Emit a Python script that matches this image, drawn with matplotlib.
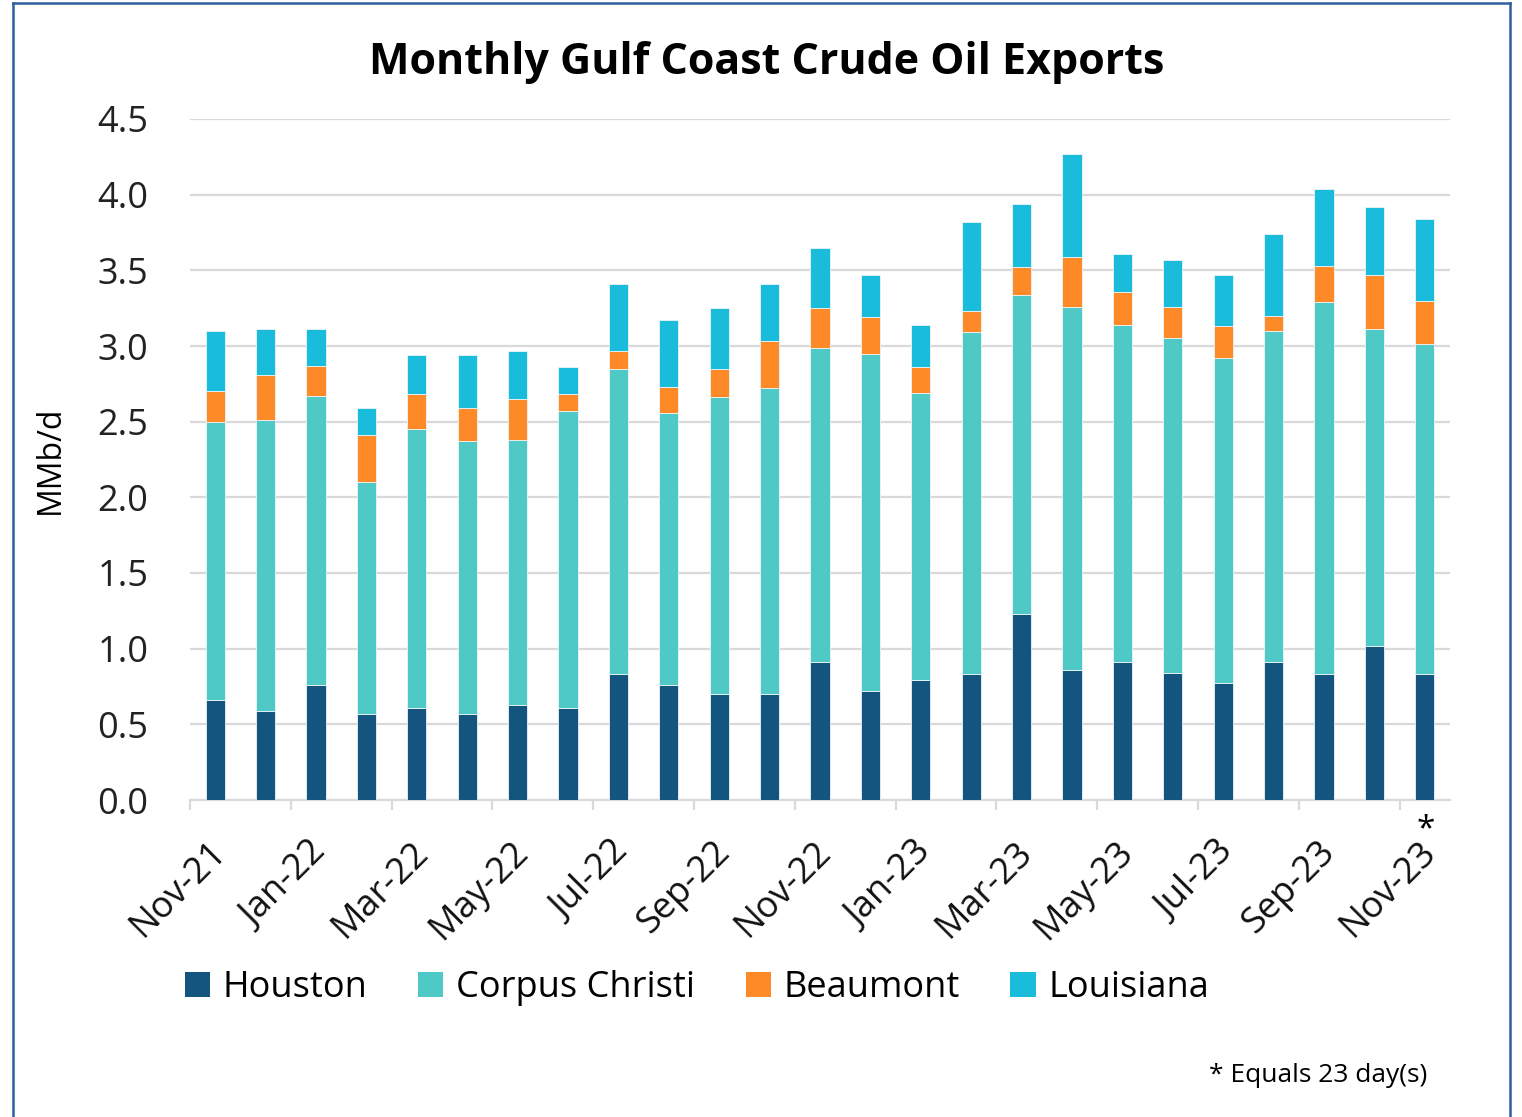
import matplotlib.pyplot as plt
import matplotlib.transforms as mtransforms
from matplotlib.patches import Patch
from matplotlib.lines import Line2D
import numpy as np

# monthly exports, MMb/d
months = ['Nov-21', 'Dec-21', 'Jan-22', 'Feb-22', 'Mar-22', 'Apr-22', 'May-22',
          'Jun-22', 'Jul-22', 'Aug-22', 'Sep-22', 'Oct-22', 'Nov-22', 'Dec-22',
          'Jan-23', 'Feb-23', 'Mar-23', 'Apr-23', 'May-23', 'Jun-23', 'Jul-23',
          'Aug-23', 'Sep-23', 'Oct-23', 'Nov-23']
houston = [0.66, 0.59, 0.76, 0.57, 0.61, 0.57, 0.63, 0.61, 0.83, 0.76, 0.70, 0.70,
           0.91, 0.72, 0.79, 0.83, 1.23, 0.86, 0.91, 0.84, 0.77, 0.91, 0.83, 1.02, 0.83]
corpus_christi = [1.84, 1.92, 1.91, 1.53, 1.84, 1.80, 1.75, 1.96, 2.02, 1.80, 1.96, 2.02,
                  2.08, 2.23, 1.90, 2.26, 2.11, 2.40, 2.23, 2.21, 2.15, 2.19, 2.46, 2.09, 2.18]
beaumont = [0.20, 0.30, 0.20, 0.31, 0.23, 0.22, 0.27, 0.11, 0.12, 0.17, 0.19, 0.31,
            0.26, 0.24, 0.17, 0.14, 0.18, 0.33, 0.22, 0.21, 0.21, 0.10, 0.24, 0.36, 0.29]
louisiana = [0.40, 0.30, 0.24, 0.18, 0.26, 0.35, 0.32, 0.18, 0.44, 0.44, 0.40, 0.38,
             0.40, 0.28, 0.28, 0.59, 0.42, 0.68, 0.25, 0.31, 0.34, 0.54, 0.51, 0.45, 0.54]

series = [('Houston', houston, '#14557f'),
          ('Corpus Christi', corpus_christi, '#4fc9c5'),
          ('Beaumont', beaumont, '#fd8a27'),
          ('Louisiana', louisiana, '#19bcdb')]

plt.rcParams['font.family'] = ['Open Sans', 'DejaVu Sans']

fig = plt.figure(figsize=(15.22, 11.17), dpi=100)
ax = fig.add_axes([190/1522, 1 - 800/1117, 1260/1522, 681/1117])

x = np.arange(len(months))
bottom = np.zeros(len(months))
for name, vals, col in series:
    ax.bar(x, vals, 0.38, bottom=bottom, color=col, edgecolor='#eef4f8',
           linewidth=0.6, label=name, zorder=3)
    bottom += np.array(vals)

ax.set_xlim(-0.5, len(months) - 0.5)
ax.set_ylim(0, 4.5)
ax.set_yticks(np.arange(0, 4.51, 0.5))
ax.set_yticklabels([f'{v:.1f}' for v in np.arange(0, 4.51, 0.5)], fontsize=26)
ax.tick_params(axis='y', length=0, pad=30, colors='#222222')
ax.grid(axis='y', color='#d9d9d9', linewidth=1.6, zorder=0)

ax.set_xticks(x[::2])
ax.set_xticklabels(months[::2], rotation=45, ha='right', va='center',
                   rotation_mode='anchor', fontsize=26, color='#111111')
ax.tick_params(axis='x', length=0, pad=34)
# nudge the slanted labels a little to the right, as in the original
shift = mtransforms.ScaledTranslation(6/100, 0, fig.dpi_scale_trans)
for lab in ax.get_xticklabels():
    lab.set_transform(lab.get_transform() + shift)
ax.set_xticks(np.arange(-0.5, len(months) - 1, 2), minor=True)
ax.tick_params(axis='x', which='minor', length=7, width=1.6, color='#d9d9d9')

for s in ['top', 'right', 'left']:
    ax.spines[s].set_visible(False)
ax.spines['bottom'].set_color('#d9d9d9')
ax.spines['bottom'].set_linewidth(1.6)

ax.set_ylabel('MMb/d', fontsize=23, labelpad=22)

# asterisk on the partial month
off = mtransforms.ScaledTranslation(1/100, -30/100, fig.dpi_scale_trans)
ax.text(24, 0, '*', transform=mtransforms.blended_transform_factory(ax.transData, ax.transAxes) + off,
        ha='center', va='center', fontsize=24)

fig.text(767/1522, 1 - 63/1117, 'Monthly Gulf Coast Crude Oil Exports',
         ha='center', va='center', fontsize=31, fontweight='bold')

handles = [Patch(facecolor=c, label=n) for n, _, c in series]
fig.legend(handles=handles, ncol=4, loc='center', bbox_to_anchor=(697/1522, 1 - 988/1117),
           frameon=False, fontsize=26, handlelength=0.7, handleheight=0.7,
           handletextpad=0.35, columnspacing=1.4)

fig.text(1427/1522, 1 - 1076/1117, '* Equals 23 day(s)', ha='right', va='center',
         fontsize=19)

# blue frame around the chart
for xs, ys in [([13/1522, 13/1522], [0, 1 - 3/1117]),
               ([13/1522, 1510/1522], [1 - 3/1117, 1 - 3/1117]),
               ([1510/1522, 1510/1522], [1 - 3/1117, 0])]:
    fig.add_artist(Line2D(xs, ys, color='#2f5f9e', linewidth=1.8))

fig.savefig('out.png', dpi=100)
